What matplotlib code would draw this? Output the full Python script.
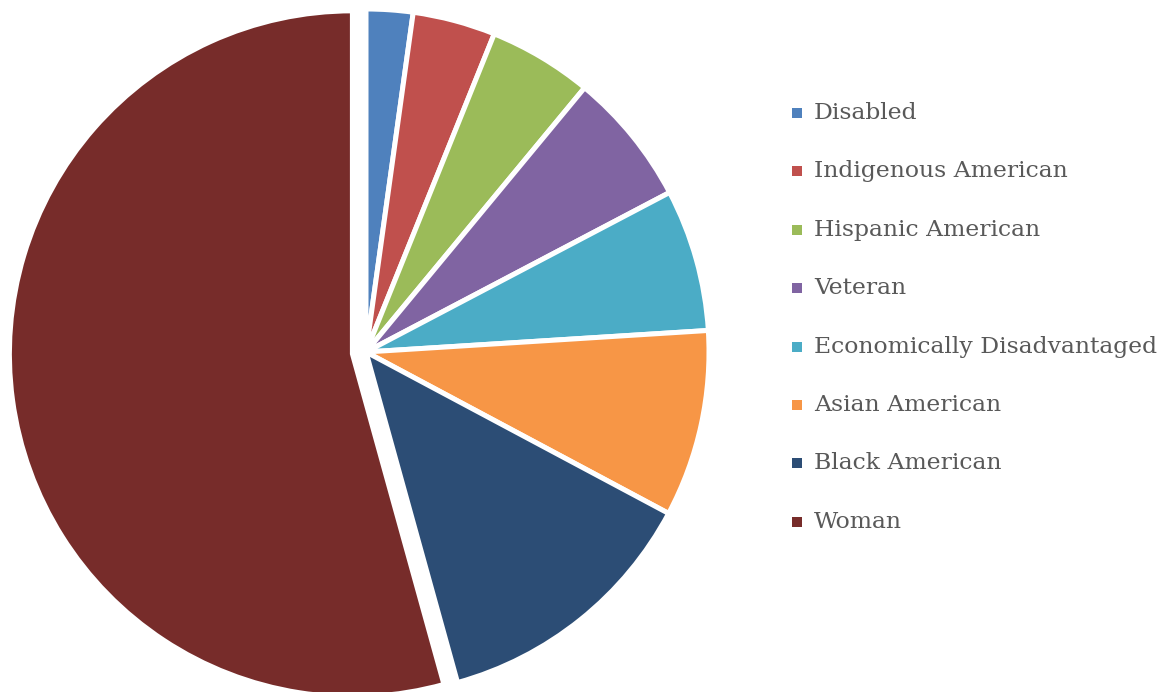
import matplotlib
matplotlib.use("Agg")
import matplotlib.pyplot as plt
from matplotlib.patches import Rectangle

# share of each group (%), clockwise from 12 o'clock
labels = ["Disabled", "Indigenous American", "Hispanic American", "Veteran",
          "Economically Disadvantaged", "Asian American", "Black American", "Woman"]
values = [2.2, 3.9, 4.9, 6.3, 6.7, 8.8, 12.9, 54.3]
colors = ["#4F81BD", "#C0504D", "#9BBB59", "#8064A2",
          "#4BACC6", "#F79646", "#2C4D75", "#772C2A"]
explode = [0, 0, 0, 0, 0, 0, 0, 0.04]

W, H = 1174, 692
fig = plt.figure(figsize=(W / 100, H / 100), dpi=100)

# pie centre ~ (366, 352) px, radius ~343 px
r_px = 343
cx, cy = 366, 352
ax = fig.add_axes([(cx - r_px) / W, (H - cy - r_px) / H, 2 * r_px / W, 2 * r_px / H])
ax.pie(values, colors=colors, explode=explode, startangle=90, counterclock=False,
       wedgeprops=dict(edgecolor="white", linewidth=3.6))
ax.set_xlim(-1, 1)
ax.set_ylim(-1, 1)
ax.set_aspect("equal")
ax.axis("off")

# legend drawn by hand
y0, dy = 113, 58.4
for i, (lab, col) in enumerate(zip(labels, colors)):
    y = y0 + i * dy
    fig.patches.append(Rectangle((792 / W, 1 - (y + 5) / H), 10 / W, 10 / H,
                                 transform=fig.transFigure, facecolor=col,
                                 edgecolor="none"))
    fig.text(814 / W, 1 - y / H, lab, fontsize=16.9, family="DejaVu Serif",
             color="#595959", va="center", ha="left")

fig.savefig("out.png", dpi=100)
